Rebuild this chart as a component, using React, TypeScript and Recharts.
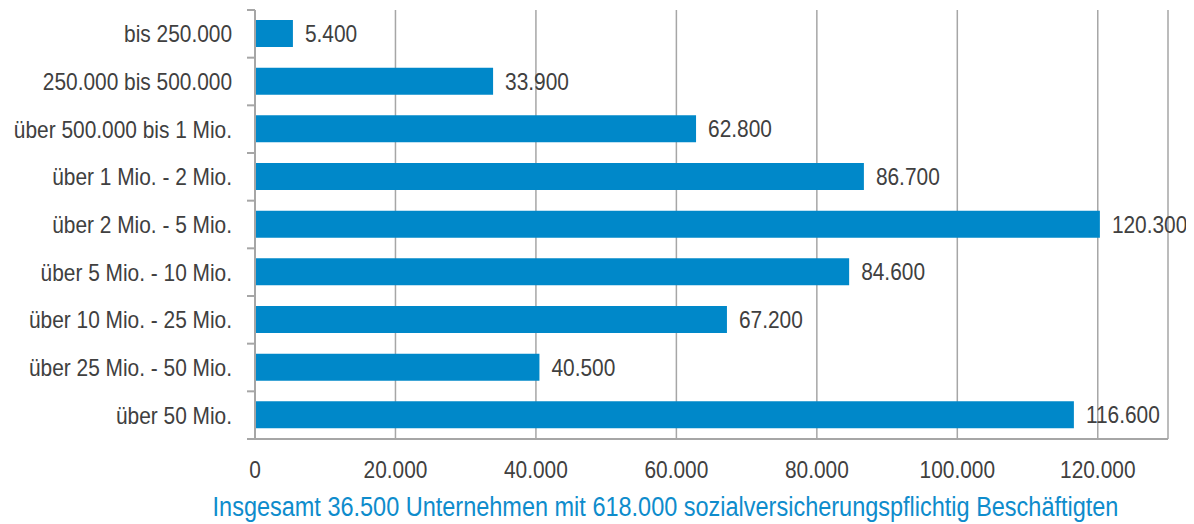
import React from 'react';
import { BarChart, Bar, XAxis, YAxis, CartesianGrid, LabelList, Label } from 'recharts';

const categories = [
  'bis 250.000',
  '250.000 bis 500.000',
  'über 500.000 bis 1 Mio.',
  'über 1 Mio. - 2 Mio.',
  'über 2 Mio. - 5 Mio.',
  'über 5 Mio. - 10 Mio.',
  'über 10 Mio. - 25 Mio.',
  'über 25 Mio. - 50 Mio.',
  'über 50 Mio.',
];

const employees = [5400, 33900, 62800, 86700, 120300, 84600, 67200, 40500, 116600];

const xTicks = [0, 20000, 40000, 60000, 80000, 100000, 120000];

const title = 'Insgesamt 36.500 Unternehmen mit 618.000 sozialversicherungspflichtig Beschäftigten';

const data = categories.map((name, i) => ({ name, value: employees[i] }));

// no Arial Narrow here, so squeeze Liberation Sans horizontally
const FONT = '"Liberation Sans", Arial, sans-serif';
const SQUEEZE = 0.87;
const TEXT = '#404040';
const GRID = '#a6a6a6';
const BLUE = '#0088c9';

const fmt = (v: number) => String(Math.round(v)).replace(/\B(?=(\d{3})+(?!\d))/g, '.');

const CHART_W = 1178;
const CHART_H = 516;
const MARGIN = { top: 2, right: 18, bottom: 0, left: 0 };
const X_HEIGHT = 85;
const PLOT_H = CHART_H - MARGIN.top - MARGIN.bottom - X_HEIGHT;
const BAND = PLOT_H / categories.length;

const NarrowText = ({ x, y, anchor = 'start', size = 24, fill = TEXT, dy, children }: any) => (
  <text
    transform={`translate(${x},${y}) scale(${SQUEEZE},1)`}
    x={0}
    y={0}
    dy={dy}
    textAnchor={anchor}
    fontFamily={FONT}
    fontSize={size}
    fill={fill}
  >
    {children}
  </text>
);

const CategoryTick = (props: any) => {
  const { x, y, payload, index } = props;
  const last = index === categories.length - 1;
  return (
    <g>
      <line x1={x - 8} x2={x} y1={y - BAND / 2} y2={y - BAND / 2} stroke={GRID} strokeWidth={2} />
      {last && <line x1={x - 8} x2={x} y1={y + BAND / 2} y2={y + BAND / 2} stroke={GRID} strokeWidth={2} />}
      <NarrowText x={x - 23} y={y} dy="0.35em" anchor="end">
        {payload.value}
      </NarrowText>
    </g>
  );
};

const ValueTick = (props: any) => {
  const { x, y, payload } = props;
  return (
    <NarrowText x={x} y={y + 39} anchor="middle">
      {fmt(payload.value)}
    </NarrowText>
  );
};

const BarValue = (props: any) => {
  const { x, y, width, height, value } = props;
  return (
    <NarrowText x={x + width + 12} y={y + height / 2} dy="0.35em">
      {fmt(Number(value))}
    </NarrowText>
  );
};

const TitleLabel = (props: any) => {
  const { viewBox } = props;
  return (
    <NarrowText
      x={viewBox.x + viewBox.width / 2 - 46}
      y={viewBox.y + viewBox.height - 8}
      anchor="middle"
      size={27}
      fill="#0e8ccc"
    >
      {title}
    </NarrowText>
  );
};

export default function App() {
  return (
    <div style={{ width: CHART_W, height: CHART_H }}>
      <BarChart
        width={CHART_W}
        height={CHART_H}
        data={data}
        layout="vertical"
        margin={MARGIN}
        barSize={27}
      >
        <CartesianGrid horizontal={false} stroke={GRID} strokeWidth={1.5} />
        <XAxis
          type="number"
          domain={[0, 130000]}
          ticks={xTicks}
          height={X_HEIGHT}
          tickSize={0}
          tickMargin={0}
          tickLine={false}
          axisLine={{ stroke: GRID, strokeWidth: 2 }}
          tick={<ValueTick />}
          interval={0}
        >
          <Label content={<TitleLabel />} />
        </XAxis>
        <YAxis
          type="category"
          dataKey="name"
          width={247}
          tickSize={0}
          tickMargin={0}
          tickLine={false}
          axisLine={{ stroke: GRID, strokeWidth: 2 }}
          tick={<CategoryTick />}
          interval={0}
        />
        <Bar dataKey="value" fill={BLUE} isAnimationActive={false}>
          <LabelList dataKey="value" content={<BarValue />} />
        </Bar>
      </BarChart>
    </div>
  );
}
